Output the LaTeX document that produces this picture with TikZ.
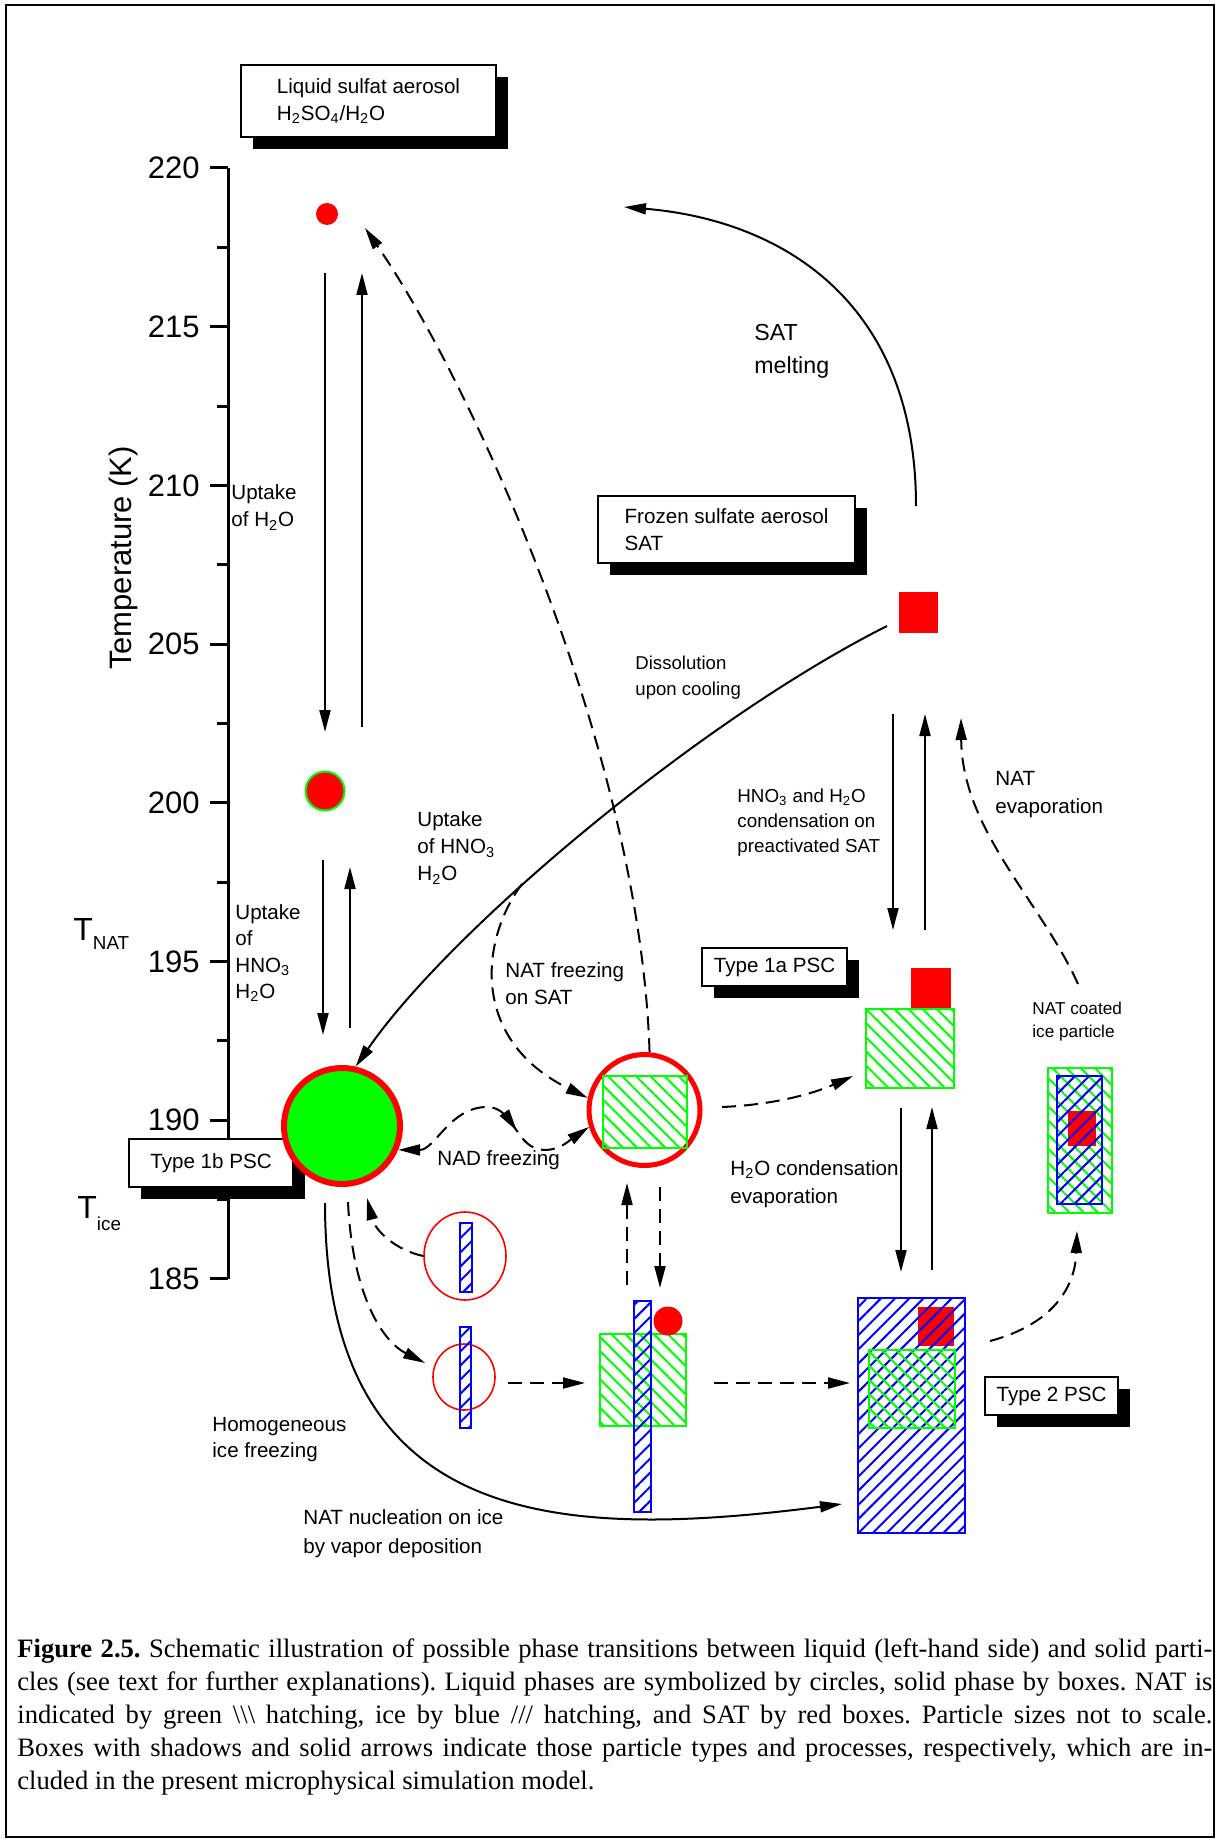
\documentclass[tikz,border=0pt]{standalone}
\usepackage{fontspec}
\setmainfont{Liberation Sans}
\newfontfamily\capfont{Liberation Serif}
\usetikzlibrary{arrows.meta,shadows,patterns.meta,shapes.geometric,decorations.markings}

\newcommand\water{H\textsubscript{2}O}
\newcommand\nitric{HNO\textsubscript{3}}
\newcommand\sulfuric{H\textsubscript{2}SO\textsubscript{4}}
\newcommand\capline[1]{\makebox[597.5pt][s]{#1}}

\begin{document}
\begin{tikzpicture}[x=0.5pt, y=-0.5pt,
    every node/.style={inner sep=0pt},
    >={Triangle[length=11pt,width=5.5pt]},
    lbl/.style={anchor=west, align=left, font=\fontsize{10.3}{13.5}\selectfont},
    pscbox/.style={draw, fill=white, line width=0.7pt, align=left,
                   font=\fontsize{10.3}{13.5}\selectfont,
                   drop shadow={shadow xshift=6pt, shadow yshift=-6pt,
                                fill=black, opacity=1}},
    natbox/.style={rectangle, draw=green, line width=1pt,
                   pattern={Lines[angle=-45,distance=5pt,line width=1pt]},
                   pattern color=green},
    icebox/.style={rectangle, draw=blue, line width=1pt,
                   pattern={Lines[angle=45,distance=5pt,line width=1pt]},
                   pattern color=blue},
    satbox/.style={rectangle, fill=red},
    ticklbl/.style={anchor=east, font=\fontsize{15.5}{16}\selectfont},
    arr/.style={->, line width=1pt},
    darr/.style={->, line width=1pt, dash pattern=on 7pt off 4pt},
  ]
  \useasboundingbox (0,0) rectangle (1216,1840);
  \draw[line width=1pt] (6,5) rectangle (1214,1837);

  % --- temperature axis ---
  \draw[line width=1.5pt] (228,168) -- (228,1279);
  \foreach \k in {0,...,7}{
    \pgfmathsetmacro\ty{168+158.71*\k}
    \pgfmathtruncatemacro\tv{220-5*\k}
    \draw[line width=1.5pt] (210,\ty) -- (228,\ty);
    \node[ticklbl] (tick\tv) at (200,\ty) {\tv};
  }
  \foreach \k in {0,...,6}{
    \pgfmathsetmacro\ty{168+158.71*(\k+0.5)}
    \draw[line width=1.5pt] (217,\ty) -- (228,\ty);
  }
  \node[rotate=90, font=\fontsize{15.5}{16}\selectfont] (taxis) at (123,558) {Temperature (K)};
  \node[anchor=base west, font=\fontsize{16}{16}\selectfont] (tnat) at (73,940)
    {T\raisebox{-4.5pt}{\fontsize{9.4}{10}\selectfont NAT}};
  \node[anchor=base west, font=\fontsize{16}{16}\selectfont] (tice) at (77,1218)
    {T\raisebox{-6pt}{\fontsize{9.4}{10}\selectfont ice}};

  % --- shadowed boxes ---
  \node[pscbox, minimum width=127.5pt, minimum height=36pt] (liqbox) at (368.5,101)
    {Liquid sulfat aerosol\\\sulfuric/\water};
  \node[pscbox, minimum width=128.5pt, minimum height=33.5pt] (frozbox) at (726.5,529.5)
    {Frozen sulfate aerosol\\SAT};
  \node[pscbox, minimum width=72.5pt, minimum height=19pt] (psc1a) at (774.5,967) {Type 1a PSC};
  \node[pscbox, minimum width=82pt, minimum height=24pt] (psc1b) at (211,1163) {Type 1b PSC};
  \node[pscbox, minimum width=66.5pt, minimum height=19pt] (psc2) at (1051.5,1396) {Type 2 PSC};

  % --- particles ---
  \node[circle, fill=red, minimum size=11pt] (drop220) at (327,214) {};
  \node[circle, fill=red, draw=green, line width=1pt, minimum size=19.5pt] (drop200) at (325,791) {};
  \node[circle, fill=green, draw=red, line width=3pt, minimum size=58pt] (drop1b) at (342,1126) {};
  \node[satbox, minimum width=19.5pt, minimum height=20.5pt] (sat) at (918.5,612.5) {};
  \node[circle, draw=red, line width=2.5pt, minimum size=55.5pt] (natsat) at (644.5,1110) {};
  \node[natbox, minimum width=42pt, minimum height=36pt] (natsatbox) at (645,1112) {};
  \node[satbox, minimum width=20pt, minimum height=20pt] (sat1a) at (931,988) {};
  \node[natbox, minimum width=44pt, minimum height=39.5pt] (nat1a) at (910,1048.5) {};
  \node[ellipse, draw=red, line width=0.8pt, minimum width=41pt, minimum height=44pt] (liqA) at (465,1256) {};
  \node[icebox, minimum width=6pt, minimum height=34.5pt] (iceA) at (466,1257.5) {};
  \node[ellipse, draw=red, line width=0.8pt, minimum width=31pt, minimum height=33pt] (liqB) at (464,1377) {};
  \node[icebox, minimum width=5.5pt, minimum height=50.5pt] (iceB) at (465.5,1377.5) {};
  \node[natbox, minimum width=43pt, minimum height=46pt] (natmid) at (643,1380) {};
  \node[icebox, minimum width=8.5pt, minimum height=105.5pt] (icemid) at (642.5,1406.5) {};
  \node[circle, fill=red, minimum size=14.5pt] (satmid) at (668,1321) {};
  \node[satbox, minimum width=18pt, minimum height=19.5pt] (sat2) at (936,1326.5) {};
  \node[icebox, minimum width=53.5pt, minimum height=117.5pt] (ice2) at (911.5,1415.5) {};
  \node[natbox, minimum width=43pt, minimum height=39pt] (nat2) at (912,1389) {};
  \node[natbox, minimum width=32pt, minimum height=72.5pt] (natcoat) at (1080,1140.5) {};
  \node[satbox, minimum width=14pt, minimum height=17.5pt] (satcoat) at (1082,1128.5) {};
  \node[icebox, minimum width=22.5pt, minimum height=64pt] (icecoat) at (1079.5,1140) {};

  % free ends of the connectors
  \coordinate (w1top) at (325,273);   \coordinate (w1bot) at (325,732);
  \coordinate (w2bot) at (362,727);   \coordinate (w2top) at (362,273);
  \coordinate (h1top) at (323,860);   \coordinate (h1bot) at (323,1035);
  \coordinate (h2bot) at (350,1028);  \coordinate (h2top) at (350,867);
  \coordinate (melt0) at (916,506);   \coordinate (melt1) at (624,207);
  \coordinate (diss0) at (887,626);
  \coordinate (c1top) at (893,714);   \coordinate (c1bot) at (893,930);
  \coordinate (c2bot) at (925,930);   \coordinate (c2top) at (925,714);
  \coordinate (e1top) at (901,1108);  \coordinate (e1bot) at (901,1272);
  \coordinate (e2bot) at (932,1270);  \coordinate (e2top) at (932,1107);
  \coordinate (homo0) at (325,1203);  \coordinate (homo1) at (842,1504);
  \coordinate (back220) at (365,228);
  \coordinate (frz0) at (522,884);
  \coordinate (to1a0) at (722,1107);  \coordinate (to1a1) at (853,1076);
  \coordinate (melt1b) at (367,1198);
  \coordinate (out1b) at (348,1202);  \coordinate (inB) at (425,1363);
  \coordinate (m1bot) at (627,1285);  \coordinate (m1top) at (627,1183);
  \coordinate (m2top) at (660,1187);  \coordinate (m2bot) at (660,1288);
  \coordinate (b2mid0) at (508,1383); \coordinate (b2mid1) at (585,1383);
  \coordinate (mid2t0) at (714,1383); \coordinate (mid2t1) at (850,1383);
  \coordinate (t2c0) at (990,1341);   \coordinate (t2c1) at (1077,1231);
  \coordinate (ev0) at (1078,984);    \coordinate (ev1) at (961,718);

  % --- solid arrows ---
  \draw[arr] (w1top) -- (w1bot);
  \draw[arr] (w2bot) -- (w2top);
  \draw[arr] (h1top) -- (h1bot);
  \draw[arr] (h2bot) -- (h2top);
  \draw[arr] (melt0) .. controls (916,300) and (780,220) .. (melt1);
  \draw[arr] (diss0) .. controls (700,720) and (450,930) .. (drop1b.77);
  \draw[arr] (c1top) -- (c1bot);
  \draw[arr] (c2bot) -- (c2top);
  \draw[arr] (e1top) -- (e1bot);
  \draw[arr] (e2bot) -- (e2top);
  \draw[arr] (homo0) .. controls (325,1530) and (560,1540) .. (homo1);

  % --- dashed arrows ---
  \draw[darr] (natsat.85) .. controls (640,750) and (470,380) .. (back220);
  \draw[darr] (frz0) .. controls (480,940) and (470,1040) .. (natsat.168);
  \draw[darr, <->, postaction={decorate},
        decoration={markings, mark=at position 0.62 with {\arrow{>}}}]
    (drop1b.-23) .. controls (435,1150) and (450,1107) .. (487,1107)
    .. controls (515,1107) and (515,1150) .. (545,1150)
    .. controls (560,1150) and (570,1140) .. (natsat.197);
  \draw[darr] (to1a0) .. controls (770,1105) and (810,1095) .. (to1a1);
  \draw[darr] (liqA.west) .. controls (395,1250) and (375,1230) .. (melt1b);
  \draw[darr] (out1b) .. controls (352,1290) and (380,1340) .. (inB);
  \draw[darr] (m1bot) -- (m1top);
  \draw[darr] (m2top) -- (m2bot);
  \draw[darr] (b2mid0) -- (b2mid1);
  \draw[darr] (mid2t0) -- (mid2t1);
  \draw[darr] (t2c0) .. controls (1050,1325) and (1075,1290) .. (t2c1);
  \draw[darr] (ev0) .. controls (1040,900) and (962,830) .. (ev1);

  % --- process labels ---
  \node[lbl] (lupw) at (231,507.5) {Uptake\\of \water};
  \node[lbl, font=\fontsize{10.3}{13.25}\selectfont] (lupn) at (235,953)
    {Uptake\\of\\\nitric\\\water};
  \node[lbl] (lupr) at (417,848) {Uptake\\of \nitric\\\water};
  \node[lbl, font=\fontsize{9.3}{13}\selectfont] (ldiss) at (635,678) {Dissolution\\upon cooling};
  \node[lbl] (lfrz) at (505,984) {NAT freezing\\on SAT};
  \node[lbl] (lnad) at (437,1160) {NAD freezing};
  \node[lbl, font=\fontsize{11.6}{16.5}\selectfont] (lmelt) at (754,351.5) {SAT\\melting};
  \node[lbl, font=\fontsize{9.4}{12.5}\selectfont] (lcond) at (737,823)
    {\nitric{} and \water\\condensation on\\preactivated SAT};
  \node[lbl, font=\fontsize{10.3}{14}\selectfont] (lev) at (995,795) {NAT\\evaporation};
  \node[lbl, font=\fontsize{10.3}{14}\selectfont] (lcondw) at (730,1184)
    {\water{} condensation\\evaporation};
  \node[lbl, font=\fontsize{8.6}{11.5}\selectfont] (lcoat) at (1032,1021.5) {NAT coated\\ice particle};
  \node[lbl, font=\fontsize{10.3}{13}\selectfont] (lhomo) at (212,1440) {Homogeneous\\ice freezing};
  \node[lbl, font=\fontsize{10.3}{14.5}\selectfont] (lnuc) at (303,1533.5)
    {NAT nucleation on ice\\by vapor deposition};

  % --- caption ---
  \node[anchor=north west, align=left,
        font=\capfont\fontsize{13.3}{16.5}\selectfont\frenchspacing] (caption) at (17,1638)
    {\capline{\textbf{Figure 2.5.} Schematic illustration of possible phase transitions between liquid (left-hand side) and solid parti-}\\
     \capline{cles (see text for further explanations). Liquid phases are symbolized by circles, solid phase by boxes. NAT is}\\
     \capline{indicated by green \textbackslash\textbackslash\textbackslash{} hatching, ice by blue /// hatching, and SAT by red boxes. Particle sizes not to scale.}\\
     \capline{Boxes with shadows and solid arrows indicate those particle types and processes, respectively, which are in-}\\
     cluded in the present microphysical simulation model.};
\end{tikzpicture}
\end{document}
